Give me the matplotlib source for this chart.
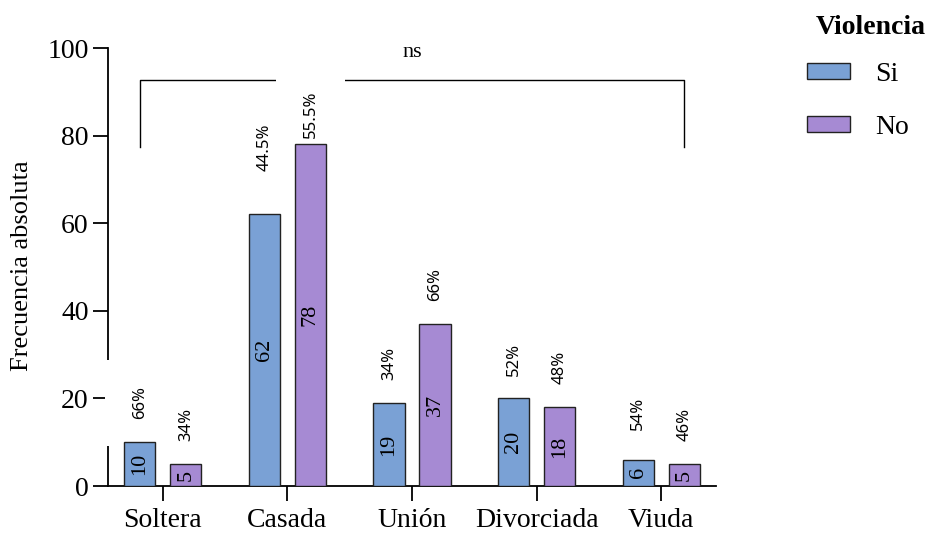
import numpy as np
import matplotlib
matplotlib.use("Agg")
import matplotlib.pyplot as plt
from matplotlib.patches import Patch

# datos
categorias = ["Soltera", "Casada", "Unión", "Divorciada", "Viuda"]
si_vals = [10, 62, 19, 20, 6]
no_vals = [5, 78, 37, 18, 5]
si_pct = ["66%", "44.5%", "34%", "52%", "54%"]
no_pct = ["34%", "55.5%", "66%", "48%", "46%"]
grupos = ["Si", "No"]
titulo_leyenda = "Violencia"
etiqueta_y = "Frecuencia absoluta"
signif = "ns"

azul = "#7aa1d5"
morado = "#a68ad3"

plt.rcParams["font.family"] = ["Liberation Serif", "DejaVu Serif"]

fig = plt.figure(figsize=(9.36, 5.38), dpi=100)
ax = fig.add_axes([108 / 936, 52 / 538, 608 / 936, 438 / 538])

x = np.arange(len(categorias))
off = 0.185
w = 0.25
ax.bar(x - off, si_vals, w, color=azul, edgecolor="#222222", linewidth=1.0, zorder=4)
ax.bar(x + off, no_vals, w, color=morado, edgecolor="#222222", linewidth=1.0, zorder=4)

# numeros dentro de las barras
for xi, v in zip(x - off, si_vals):
    ax.text(xi, v / 2, str(v), rotation=90, ha="center", va="center",
            fontsize=16, zorder=5)
for xi, v in zip(x + off, no_vals):
    ax.text(xi, v / 2, str(v), rotation=90, ha="center", va="center",
            fontsize=16, zorder=5)

# porcentajes encima (algunos movidos a mano como en el original)
si_dy = [9, 15.3, 9, 9, 10.5]
no_dy = [9, 6.8, 9, 9, 9]
caja = dict(facecolor="white", edgecolor="none", boxstyle="square,pad=1.6")
for xi, v, p, d in zip(x - off, si_vals, si_pct, si_dy):
    ax.text(xi, v + d, p, rotation=90, ha="center", va="center", fontsize=12,
            family="Noto Sans", bbox=caja, zorder=3)
for xi, v, p, d in zip(x + off, no_vals, no_pct, no_dy):
    ax.text(xi, v + d, p, rotation=90, ha="center", va="center", fontsize=12,
            family="Noto Sans", bbox=caja, zorder=3)

# corchete de comparacion
x0, x1 = x[0] - off, x[-1] + off
ax.plot([x0, x0, x1, x1], [77.4, 92.7, 92.7, 77.4], color="black", lw=1.0,
        clip_on=False, zorder=2)
ax.text((x0 + x1) / 2, 99, signif, ha="center", va="center", fontsize=16,
        clip_on=False)

ax.set_xlim(-0.44, len(categorias) - 1 + 0.44)
ax.set_ylim(0, 100)
ax.set_yticks([0, 20, 40, 60, 80, 100])
ax.set_xticks(x)
ax.set_xticklabels(categorias)
ax.tick_params(axis="both", labelsize=20, width=1.3, length=11, direction="out")
ax.tick_params(axis="y", pad=3)
ax.tick_params(axis="x", pad=5)
for s in ["top", "right"]:
    ax.spines[s].set_visible(False)
for s in ["left", "bottom"]:
    ax.spines[s].set_linewidth(1.3)

fig.text(22 / 936, 1 - 266 / 538, etiqueta_y, rotation=90, ha="center",
         va="center", fontsize=19)

# leyenda
fig.text(871 / 936, 1 - 27 / 538, titulo_leyenda, ha="center", va="center",
         fontsize=20, fontweight="bold")
handles = [Patch(facecolor=azul, edgecolor="#222222", linewidth=1.0),
           Patch(facecolor=morado, edgecolor="#222222", linewidth=1.0)]
fig.legend(handles, grupos, loc="upper left", bbox_to_anchor=(807 / 936, 1 - 62 / 538),
           frameon=False, fontsize=20, borderpad=0, borderaxespad=0,
           handlelength=1.55, handleheight=0.47, handletextpad=0.9, labelspacing=1.0)

fig.savefig("out.png", dpi=100)
